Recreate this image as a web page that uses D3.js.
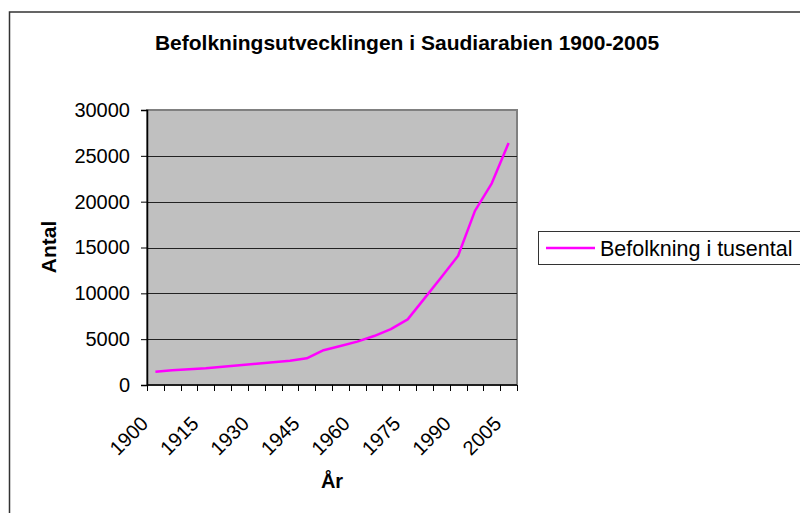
<!DOCTYPE html>
<html lang="en">
<head>
    <meta charset="UTF-8">
    <title>Befolkningsutvecklingen i Saudiarabien</title>
    <script src="https://d3js.org/d3.v7.min.js"></script>
    <style>
        body { margin: 0; background: #fff; font-family: "Liberation Sans", Arial, sans-serif; }
        svg { display: block; }
    </style>
</head>
<body>
    <div id="chart"></div>
    <script>
        // data (population in thousands)
        const years = [1900, 1905, 1910, 1915, 1920, 1925, 1930, 1935, 1940, 1945, 1950,
                       1955, 1960, 1965, 1970, 1975, 1980, 1985, 1990, 1995, 2000, 2005];
        const population = [1450, 1600, 1710, 1830, 2000, 2150, 2310, 2470, 2650, 2910, 3800,
                            4250, 4730, 5340, 6100, 7160, 9450, 11750, 14100, 19000, 22000, 26400];
        const yTicks = [0, 5000, 10000, 15000, 20000, 25000, 30000];
        const xLabels = [1900, 1915, 1930, 1945, 1960, 1975, 1990, 2005];
        const seriesName = "Befolkning i tusental";

        const W = 800, H = 513;
        const plot = { left: 147, top: 110, right: 517, bottom: 385 };

        const svg = d3.select("#chart").append("svg")
            .attr("width", W)
            .attr("height", H);

        // outer chart frame
        svg.append("rect")
            .attr("x", 9.5).attr("y", 12)
            .attr("width", 820).attr("height", 540)
            .attr("fill", "#fff")
            .attr("stroke", "#333").attr("stroke-width", 1.5);

        const x = d3.scaleBand()
            .domain(years)
            .range([plot.left, plot.right])
            .padding(0);

        const y = d3.scaleLinear()
            .domain([0, 30000])
            .range([plot.bottom, plot.top]);

        // plot area
        svg.append("rect")
            .attr("x", plot.left).attr("y", plot.top)
            .attr("width", plot.right - plot.left)
            .attr("height", plot.bottom - plot.top)
            .attr("fill", "#c0c0c0")
            .attr("stroke", "#808080").attr("stroke-width", 2);

        // gridlines
        svg.append("g")
            .selectAll("line")
            .data(yTicks.filter(d => d > 0 && d < 30000))
            .join("line")
            .attr("x1", plot.left).attr("x2", plot.right)
            .attr("y1", d => Math.round(y(d)) + 0.5)
            .attr("y2", d => Math.round(y(d)) + 0.5)
            .attr("stroke", "#222").attr("stroke-width", 1);

        // y axis
        const yAxis = svg.append("g")
            .attr("transform", `translate(${plot.left},0)`)
            .call(d3.axisLeft(y).tickValues(yTicks).tickSize(6).tickPadding(11).tickFormat(d3.format("d")));
        yAxis.select(".domain").attr("stroke", "#000").attr("stroke-width", 1.5);
        yAxis.selectAll(".tick line").attr("stroke", "#000");
        yAxis.selectAll("text")
            .attr("font-family", "Liberation Sans, Arial, sans-serif")
            .attr("font-size", 20)
            .attr("fill", "#000");

        // x axis: ticks between categories, labels every third category
        const xg = svg.append("g");
        xg.append("line")
            .attr("x1", plot.left).attr("x2", plot.right)
            .attr("y1", plot.bottom).attr("y2", plot.bottom)
            .attr("stroke", "#000").attr("stroke-width", 1.5);
        const edges = years.map(d => x(d)).concat([x(years[years.length - 1]) + x.bandwidth()]);
        xg.selectAll("line.tick")
            .data(edges)
            .join("line")
            .attr("class", "tick")
            .attr("x1", d => Math.round(d) + 0.5).attr("x2", d => Math.round(d) + 0.5)
            .attr("y1", plot.bottom).attr("y2", plot.bottom + 6)
            .attr("stroke", "#000");
        xg.selectAll("text")
            .data(xLabels)
            .join("text")
            .attr("transform", d => `translate(${x(d) + x.bandwidth() / 2 - 6},${plot.bottom + 40}) rotate(-45)`)
            .attr("text-anchor", "end")
            .attr("font-family", "Liberation Sans, Arial, sans-serif")
            .attr("font-size", 20)
            .text(d => d);

        // series line
        const line = d3.line()
            .x((d, i) => x(years[i]) + x.bandwidth() / 2)
            .y(d => y(d));

        svg.append("path")
            .datum(population)
            .attr("fill", "none")
            .attr("stroke", "#ff00ff")
            .attr("stroke-width", 2.5)
            .attr("stroke-linejoin", "round")
            .attr("d", line);

        // titles
        svg.append("text")
            .attr("x", 407).attr("y", 50)
            .attr("text-anchor", "middle")
            .attr("font-weight", "bold")
            .attr("font-size", 21)
            .text("Befolkningsutvecklingen i Saudiarabien 1900-2005");

        svg.append("text")
            .attr("x", 332).attr("y", 488)
            .attr("text-anchor", "middle")
            .attr("font-weight", "bold")
            .attr("font-size", 20)
            .text("År");

        svg.append("text")
            .attr("transform", "translate(56,247) rotate(-90)")
            .attr("text-anchor", "middle")
            .attr("font-weight", "bold")
            .attr("font-size", 21)
            .text("Antal");

        // legend
        const lg = svg.append("g");
        lg.append("rect")
            .attr("x", 538.5).attr("y", 231.5)
            .attr("width", 300).attr("height", 33)
            .attr("fill", "#fff")
            .attr("stroke", "#333").attr("stroke-width", 1);
        lg.append("line")
            .attr("x1", 546).attr("x2", 595)
            .attr("y1", 248).attr("y2", 248)
            .attr("stroke", "#ff00ff").attr("stroke-width", 2.5);
        lg.append("text")
            .attr("x", 600).attr("y", 255.5)
            .attr("font-size", 21.5)
            .text(seriesName);
    </script>
</body>
</html>
